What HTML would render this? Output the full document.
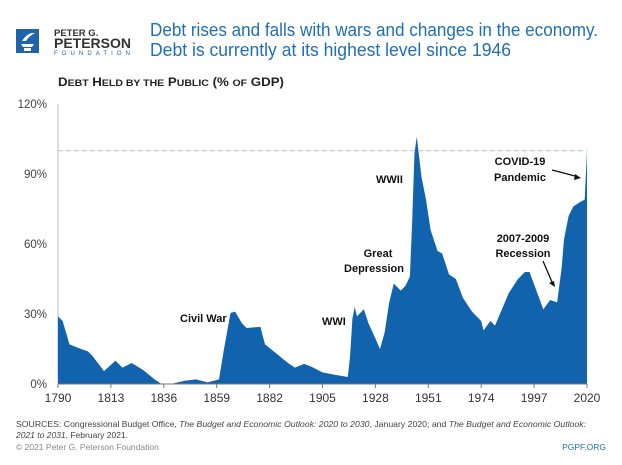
<!DOCTYPE html>
<html><head><meta charset="utf-8"><style>
html,body{margin:0;padding:0;background:#fff;}
svg{display:block;font-family:"Liberation Sans",sans-serif;}
</style></head><body>
<svg id="chart" width="622" height="465" viewBox="0 0 622 465">
  <g>
    <rect x="16" y="29" width="23" height="24" fill="#1f63ad"/>
    <path d="M21 44 h13 l-2 3 h-9 z M24 48 h7 v3 h-7z M22 41 q6 -9 13 -8 q-6 3 -9 8 z" fill="#fff"/>
    <text x="54" y="36" font-size="9.5" font-weight="bold" fill="#333">PETER G.</text>
    <text x="54" y="48" font-size="14" font-weight="bold" fill="#333" textLength="77" lengthAdjust="spacingAndGlyphs">PETERSON</text>
    <text x="54" y="55" font-size="6" fill="#1f63ad" textLength="76" lengthAdjust="spacing">FOUNDATION</text>
  </g>
  <text x="150" y="36" font-size="18" fill="#1f6fb5" textLength="448" lengthAdjust="spacingAndGlyphs">Debt rises and falls with wars and changes in the economy.</text>
  <text x="150" y="56" font-size="18" fill="#1f6fb5" textLength="361" lengthAdjust="spacingAndGlyphs">Debt is currently at its highest level since 1946</text>
  <text x="58" y="86" font-size="12" font-weight="bold" fill="#222" textLength="226" lengthAdjust="spacingAndGlyphs">D<tspan font-size="9.5">EBT</tspan> H<tspan font-size="9.5">ELD BY THE</tspan> P<tspan font-size="9.5">UBLIC</tspan> (% <tspan font-size="9.5">OF</tspan> GDP)</text>
  <g id="plot"></g>
  <g font-size="11" font-weight="bold" fill="#111">
    <text x="180" y="322">Civil War</text>
    <text x="322" y="325">WWI</text>
    <text x="378" y="257" text-anchor="middle">Great</text>
    <text x="374" y="272" text-anchor="middle">Depression</text>
    <text x="376" y="183">WWII</text>
    <text x="523" y="242" text-anchor="middle">2007-2009</text>
    <text x="523" y="257" text-anchor="middle">Recession</text>
    <text x="520" y="165" text-anchor="middle">COVID-19</text>
    <text x="520" y="181" text-anchor="middle">Pandemic</text>
    <line x1="543" y1="261" x2="552" y2="282" stroke="#111" stroke-width="1.3"/>
    <path d="M555 287 l-6 -4 l5 -2 z" fill="#111"/>
    <line x1="552" y1="170" x2="575" y2="176" stroke="#111" stroke-width="1.3"/>
    <path d="M581 178 l-7 2 l1 -6 z" fill="#111"/>
  </g>
  <g font-size="8.5" fill="#444">
    <text x="16" y="427" textLength="570" lengthAdjust="spacingAndGlyphs">SOURCES: Congressional Budget Office, <tspan font-style="italic">The Budget and Economic Outlook: 2020 to 2030</tspan>, January 2020; and <tspan font-style="italic">The Budget and Economic Outlook:</tspan></text>
    <text x="16" y="438"><tspan font-style="italic">2021 to 2031</tspan>, February 2021.</text>
    <text x="16" y="450" fill="#888">© 2021 Peter G. Peterson Foundation</text>
    <text x="606" y="450" text-anchor="end" fill="#1f6fb5">PGPF.ORG</text>
  </g>
</svg>
<script>
const years = [1790,1792,1795,1800,1803,1805,1810,1815,1818,1822,1827,1832,1835,1840,1845,1850,1855,1860,1862,1865,1867,1870,1872,1878,1880,1885,1890,1893,1897,1900,1905,1910,1916,1917,1918,1919,1920,1922,1923,1925,1928,1930,1932,1934,1936,1939,1941,1943,1944,1945,1946,1948,1950,1952,1955,1957,1960,1963,1966,1970,1974,1975,1978,1980,1983,1986,1990,1993,1995,1998,2001,2004,2007,2009,2010,2012,2014,2017,2019,2020];
const debtPct = [29,27,17,15,14,12,5.5,10,7,9,6,2,0,0.2,1.4,2,0.7,2,14,30.5,31,26,24,24.5,17,13,9,7,8.6,7.5,5,4,3,12,28,33,29,31,32,26,19.5,15,22,35,43,40,42,46,70,99,106,89,79,66,57,56,47,45,37,31,27,23,27,25,32,39,45,48,48,40,32,36,35,50,62,72,76,78,79,100];
const xTicks = [1790,1813,1836,1859,1882,1905,1928,1951,1974,1997,2020];
const yTicks = [0,30,60,90,120];
const yTickLabels = ["0%","30%","60%","90%","120%"];

const NS = "http://www.w3.org/2000/svg";
const X0=58, X1=587, Y0=384, Y1=104;
function xScale(yr){return X0+(yr-1790)/(2020-1790)*(X1-X0);}
function yScale(v){return Y0-(v/120)*(Y0-Y1);}
const plot=document.getElementById('plot');
function mk(tag,attrs){const e=document.createElementNS(NS,tag);for(const k in attrs)e.setAttribute(k,attrs[k]);plot.appendChild(e);return e;}

const yAxis=mk('line',{x1:X0,y1:Y1,x2:X0,y2:Y0,stroke:'#bbb','stroke-width':1});



let d='M'+xScale(years[0])+','+yScale(0);
for(let i=0;i<years.length;i++){d+=' L'+xScale(years[i]).toFixed(2)+','+yScale(debtPct[i]).toFixed(2);}
d+=' L'+xScale(years[years.length-1])+','+yScale(0)+' Z';
const area=mk('path',{d:d,fill:'#1163ae'});



const ref=mk('line',{x1:X0,x2:X1,y1:yScale(100),y2:yScale(100),stroke:'#c8c8c8','stroke-width':1.2,'stroke-dasharray':'5,3'});



const xAxis=mk('line',{x1:X0,y1:Y0,x2:X1,y2:Y0,stroke:'#777','stroke-width':1});



yTicks.forEach((v,i)=>{
  const t=mk('text',{x:47,y:yScale(v)+4,'text-anchor':'end','font-size':11.5,fill:'#444'});
  t.textContent=yTickLabels[i];
  
  
});
xTicks.forEach(yr=>{
  const tk=mk('line',{x1:xScale(yr),x2:xScale(yr),y1:Y0,y2:Y0+4,stroke:'#777'});
  
  
  const t=mk('text',{x:xScale(yr),y:402,'text-anchor':'middle','font-size':12,fill:'#333'});
  t.textContent=yr;
  
  
});
</script>
</body></html>
